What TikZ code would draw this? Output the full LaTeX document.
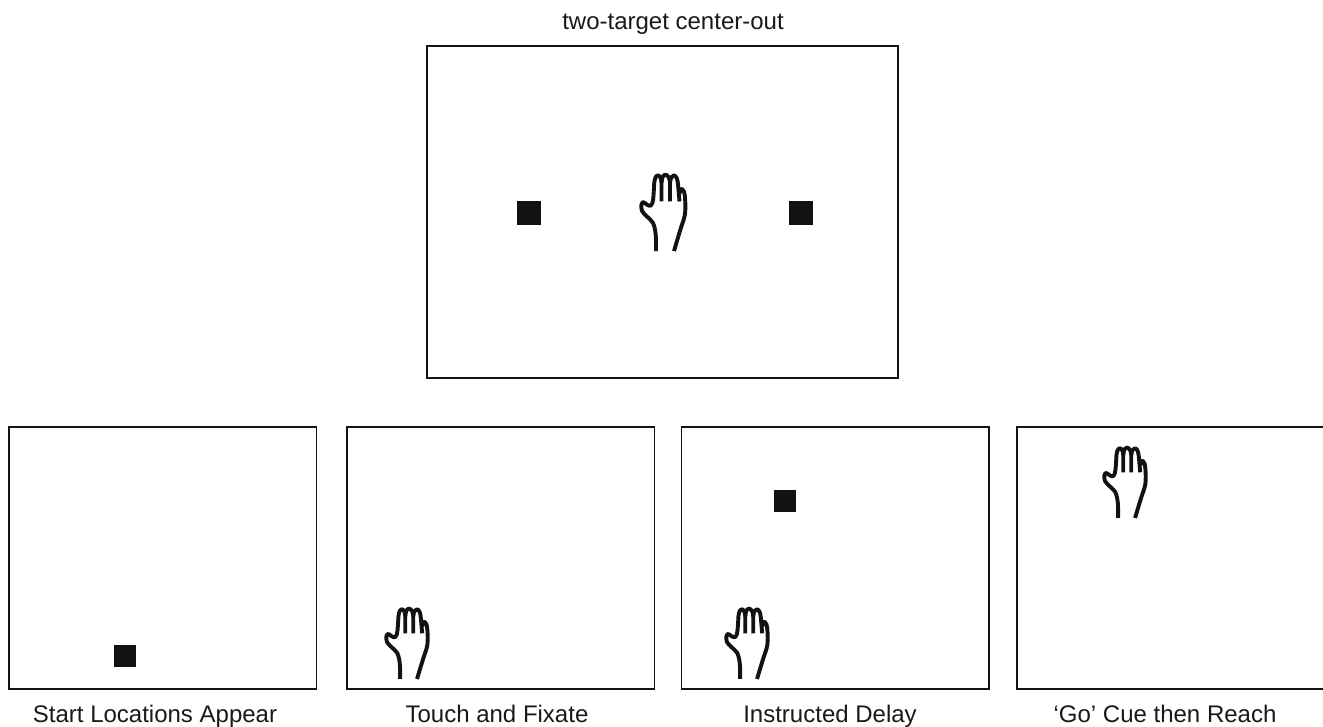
\documentclass[tikz,border=0pt]{standalone}
\usepackage{fontspec}
\setmainfont{Liberation Sans}
\tikzset{
  panel/.style={draw=black!92,line width=1.8bp,fill=white,inner sep=0pt,anchor=north west},
  target/.style={fill=black!93,inner sep=0pt,minimum size=24bp},
  caption/.style={font=\fontsize{24bp}{28bp}\selectfont,text=black!90,inner sep=0pt,anchor=base},
  handline/.style={line width=3.9bp,line cap=butt,line join=round,color=black!93},
  hand/.pic={
    \draw[handline] (30,115) .. controls (30,100) and (31,85) .. (24,73)
      .. controls (18,66) and (7,62) .. (2,55)
      .. controls (-1,48) and (1,42) .. (5,42)
      .. controls (10,44) and (15,49) .. (20,47)
      .. controls (25,44) and (25,30) .. (26,20)
      .. controls (26,9) and (29,3) .. (33,2)
      .. controls (38,2) and (41,7) .. (41,15) -- (41,41);
    \draw[handline] (41,13) .. controls (42,4) and (45,1) .. (48,1)
      .. controls (54,1) and (58,6) .. (58,15) -- (58,41);
    \draw[handline] (58,13) .. controls (59,5) and (63,2) .. (66,2)
      .. controls (71,3) and (73,8) .. (74,15) -- (77,41);
    \draw[handline] (77,30) .. controls (78,24) and (80,21) .. (82,22)
      .. controls (86,24) and (87,28) .. (88,35)
      .. controls (89,45) and (89,52) .. (88,60)
      .. controls (86,68) and (83,73) .. (80,80)
      .. controls (75,92) and (70,105) .. (66,115);
  },
}
\begin{document}
\begin{tikzpicture}[x=1bp,y=-1bp]
\useasboundingbox (0,0) rectangle (1323,726);
\node[caption] (title) at (673,30) {two-target center-out};
\node[panel,minimum width=471.5bp,minimum height=331.5bp] (big) at (425.8,45.2) {};
\node[panel,minimum width=307.8bp,minimum height=261.5bp] (p1) at (7.8,426.2) {};
\node[panel,minimum width=307.8bp,minimum height=261.5bp] (p2) at (345.8,426.2) {};
\node[panel,minimum width=307.8bp,minimum height=261.5bp] (p3) at (680.5,426.2) {};
\node[panel,minimum width=308bp,minimum height=261.5bp] (p4) at (1015.7,426.2) {};
\node[target] (t1) at (529,213) {};
\node[target] (t2) at (801,213) {};
\node[target,minimum size=22bp] (t3) at (125,656) {};
\node[target,minimum size=22bp] (t4) at (785,501) {};
\pic[xscale=0.5,yscale=0.67] (h0) at (641,174) {hand};
\pic[xscale=0.47,yscale=0.617] (h1) at (386,608) {hand};
\pic[xscale=0.47,yscale=0.617] (h2) at (726,608) {hand};
\pic[xscale=0.47,yscale=0.617] (h3) at (1104,447) {hand};
\node[caption] (c1) at (155,722) {Start Locations Appear};
\node[caption] (c2) at (497,722) {Touch and Fixate};
\node[caption] (c3) at (830,722) {Instructed Delay};
\node[caption] (c4) at (1165,722) {‘Go’ Cue then Reach};
\end{tikzpicture}
\end{document}
